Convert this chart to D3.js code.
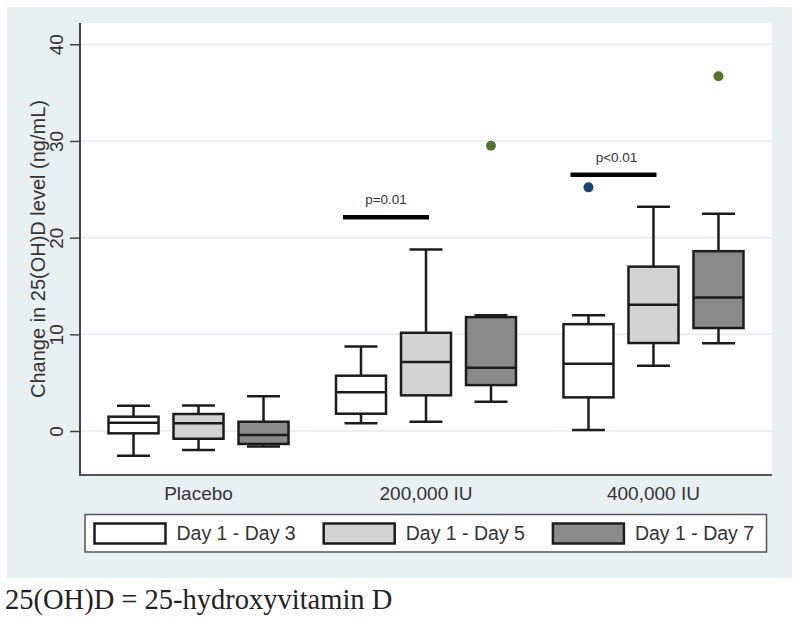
<!DOCTYPE html>
<html>
<head>
<meta charset="utf-8">
<script src="https://cdn.jsdelivr.net/npm/d3@7"></script>
<style>
  html, body { margin: 0; padding: 0; background: #ffffff; }
  svg { display: block; }
</style>
</head>
<body>
<svg id="chart" width="800" height="622"></svg>
<script>
// ---------------- DATA ----------------
const groups = ["Placebo", "200,000 IU", "400,000 IU"];
const series = ["Day 1 - Day 3", "Day 1 - Day 5", "Day 1 - Day 7"];
const seriesFill = ["#ffffff", "#d3d3d3", "#8a8a8a"];
const outlierColor = ["#1a476f", "#90353b", "#55752f"];

// values indexed [group][series]
const whiskerLow = [[-2.55, -1.96, -1.6], [0.79, 0.97, 3.03], [0.1, 6.75, 9.07]];
const q1Values   = [[-0.24, -0.8, -1.34], [1.79, 3.69, 4.75], [3.48, 9.1, 10.65]];
const medians    = [[0.86, 0.8, -0.41], [4.0, 7.13, 6.54], [6.95, 13.05, 13.8]];
const q3Values   = [[1.48, 1.76, 0.96], [5.72, 10.16, 11.78], [11.05, 17.0, 18.6]];
const whiskerHigh= [[2.6, 2.65, 3.6], [8.75, 18.78, 11.96], [11.98, 23.2, 22.47]];

const outlierGroups = ["200,000 IU", "400,000 IU", "400,000 IU"];
const outlierSeries = ["Day 1 - Day 7", "Day 1 - Day 3", "Day 1 - Day 7"];
const outlierValues = [29.5, 25.2, 36.7];

const pGroups = ["200,000 IU", "400,000 IU"];
const pValues = [22.1, 26.5];
const pLabels = ["p=0.01", "p<0.01"];

const yTicks = [0, 10, 20, 30, 40];
const yTitle = "Change in 25(OH)D level (ng/mL)";
const caption = "25(OH)D = 25-hydroxyvitamin D";

// ---------------- LAYOUT ----------------
const svg = d3.select("#chart");
const plot = { left: 80, right: 772, top: 23, bottom: 475 };
const sans = "'Liberation Sans', Arial, Helvetica, sans-serif";
const ink = "#1c1c1c";

// outer panel
svg.append("rect").attr("x", 7).attr("y", 7).attr("width", 785).attr("height", 571)
  .attr("fill", "#e9f0f2");
// plot region
svg.append("rect").attr("x", plot.left).attr("y", plot.top)
  .attr("width", plot.right - plot.left).attr("height", plot.bottom - plot.top)
  .attr("fill", "#ffffff");

const y = d3.scaleLinear().domain([-4.55, 42.2]).range([plot.bottom, plot.top]);
const xGroup = d3.scalePoint().domain(groups).range([plot.left, plot.right]).padding(0.521);
const xSeries = d3.scaleBand().domain(series).range([-97.5, 97.5])
  .paddingInner(0.2308).paddingOuter(0.1154);
const bw = xSeries.bandwidth();
const capW = bw * 0.66;

// gridlines
svg.append("g").selectAll("line").data(yTicks).join("line")
  .attr("x1", plot.left).attr("x2", plot.right)
  .attr("y1", d => y(d)).attr("y2", d => y(d))
  .attr("stroke", "#e2edf1").attr("stroke-width", 1.5);

// y axis
const yAxis = svg.append("g").attr("transform", `translate(${plot.left},0)`)
  .call(d3.axisLeft(y).tickValues(yTicks).tickSize(10).tickPadding(6).tickFormat(d3.format("d")));
yAxis.select(".domain").attr("d", `M0,${plot.top}V${plot.bottom}`)
  .attr("stroke", "#444").attr("stroke-width", 2);
yAxis.selectAll(".tick line").attr("stroke", "#444").attr("stroke-width", 1.5);
yAxis.selectAll(".tick text")
  .attr("transform", "rotate(-90)")
  .attr("x", 0).attr("y", -17).attr("dy", 0)
  .attr("text-anchor", "middle")
  .attr("fill", "#333")
  .style("font-family", sans).style("font-size", "19px");

// y title
svg.append("text")
  .attr("transform", "translate(45,249) rotate(-90)")
  .attr("text-anchor", "middle")
  .attr("fill", "#333")
  .style("font-family", sans).style("font-size", "20px")
  .text(yTitle);

// x axis
svg.append("line").attr("x1", plot.left - 1).attr("x2", plot.right)
  .attr("y1", plot.bottom).attr("y2", plot.bottom)
  .attr("stroke", "#555").attr("stroke-width", 2);
svg.append("g").selectAll("text").data(groups).join("text")
  .attr("x", d => xGroup(d)).attr("y", 500)
  .attr("text-anchor", "middle").attr("fill", "#333")
  .style("font-family", sans).style("font-size", "19px")
  .text(d => d);

// boxes
const boxes = [];
groups.forEach((g, gi) => series.forEach((s, si) => {
  boxes.push({ g, s, si, lo: whiskerLow[gi][si], q1: q1Values[gi][si], med: medians[gi][si],
               q3: q3Values[gi][si], hi: whiskerHigh[gi][si] });
}));
const bg = svg.append("g").selectAll("g").data(boxes).join("g")
  .attr("transform", d => `translate(${xGroup(d.g) + xSeries(d.s) + bw / 2},0)`);
// whiskers
bg.append("line").attr("x1", 0).attr("x2", 0).attr("y1", d => y(d.hi)).attr("y2", d => y(d.q3))
  .attr("stroke", ink).attr("stroke-width", 2.5);
bg.append("line").attr("x1", 0).attr("x2", 0).attr("y1", d => y(d.q1)).attr("y2", d => y(d.lo))
  .attr("stroke", ink).attr("stroke-width", 2.5);
bg.append("line").attr("x1", -capW / 2).attr("x2", capW / 2).attr("y1", d => y(d.hi)).attr("y2", d => y(d.hi))
  .attr("stroke", ink).attr("stroke-width", 2.5);
bg.append("line").attr("x1", -capW / 2).attr("x2", capW / 2).attr("y1", d => y(d.lo)).attr("y2", d => y(d.lo))
  .attr("stroke", ink).attr("stroke-width", 2.5);
// box
bg.append("rect").attr("x", -bw / 2).attr("width", bw)
  .attr("y", d => y(d.q3)).attr("height", d => y(d.q1) - y(d.q3))
  .attr("fill", d => seriesFill[d.si]).attr("stroke", ink).attr("stroke-width", 2.5);
// median
bg.append("line").attr("x1", -bw / 2).attr("x2", bw / 2).attr("y1", d => y(d.med)).attr("y2", d => y(d.med))
  .attr("stroke", ink).attr("stroke-width", 2.5);

// outliers
svg.append("g").selectAll("circle").data(outlierValues).join("circle")
  .attr("cx", (d, i) => xGroup(outlierGroups[i]) + xSeries(outlierSeries[i]) + bw / 2)
  .attr("cy", d => y(d)).attr("r", 5)
  .attr("fill", (d, i) => outlierColor[series.indexOf(outlierSeries[i])]);

// p-value annotations
const pg = svg.append("g").selectAll("g").data(pValues).join("g");
pg.append("line")
  .attr("x1", (d, i) => xGroup(pGroups[i]) - 83).attr("x2", (d, i) => xGroup(pGroups[i]) + 3)
  .attr("y1", d => y(d)).attr("y2", d => y(d))
  .attr("stroke", "#000").attr("stroke-width", 4.5);
pg.append("text")
  .attr("x", (d, i) => xGroup(pGroups[i]) - 40 + i * 3).attr("y", d => y(d) - 13)
  .attr("text-anchor", "middle").attr("fill", "#333")
  .style("font-family", sans).style("font-size", "13.5px")
  .text((d, i) => pLabels[i]);

// legend
svg.append("rect").attr("x", 85).attr("y", 514.5).attr("width", 681.5).attr("height", 37.5)
  .attr("fill", "#ffffff").attr("stroke", "#555").attr("stroke-width", 1.5);
const lg = svg.append("g").selectAll("g").data(series).join("g")
  .attr("transform", (d, i) => `translate(${94.5 + i * 229.2},0)`);
lg.append("rect").attr("x", 0).attr("y", 523.5).attr("width", 71).attr("height", 20)
  .attr("fill", (d, i) => seriesFill[i]).attr("stroke", ink).attr("stroke-width", 2.5);
lg.append("text").attr("x", 82).attr("y", 540)
  .attr("fill", "#333")
  .style("font-family", sans).style("font-size", "19.5px")
  .text(d => d);

// caption
svg.append("text").attr("x", 5).attr("y", 609)
  .attr("fill", "#222")
  .style("font-family", "'Liberation Serif', 'Times New Roman', serif").style("font-size", "28.5px")
  .text(caption);
</script>
</body>
</html>
